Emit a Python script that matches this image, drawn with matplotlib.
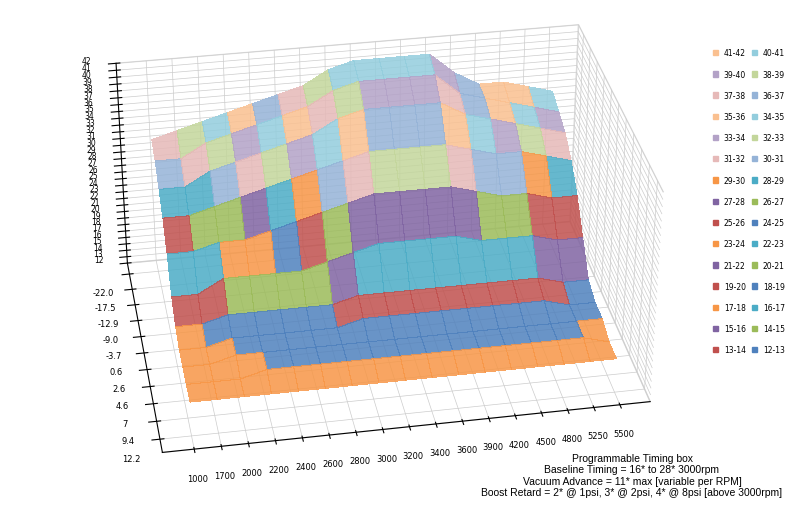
import numpy as np
import matplotlib.pyplot as plt
from matplotlib.colors import ListedColormap, BoundaryNorm
from matplotlib.patches import Patch

rpm = [1000, 1700, 2000, 2200, 2400, 2600, 2800, 3000, 3200, 3400, 3600, 3900, 4200, 4500, 4800, 5250, 5500]
load = ["-22.0", "-17.5", "-12.9", "-9.0", "-3.7", "0.6", "2.6", "4.6", "7", "9.4", "12.2"]
timing = np.array([
    [32, 33, 34, 35, 36, 37, 38, 40, 41, 41, 41, 41, 38, 36, 36, 35, 34],
    [31, 31, 33, 34, 35, 36, 37, 39, 40, 40, 40, 40, 37, 36, 35, 34, 33],
    [29, 29, 31, 32, 33, 34, 35, 37, 38, 38, 38, 38, 36, 35, 34, 33, 32],
    [27, 27, 28, 29, 30, 31, 32, 33, 34, 34, 34, 34, 33, 32, 32, 31, 30],
    [24, 24, 25, 25, 26, 27, 28, 29, 30, 30, 30, 30, 29, 28, 28, 27, 27],
    [20, 20, 22, 22, 22, 22, 23, 24, 25, 25, 25, 25, 24, 24, 24, 23, 23],
    [18, 18, 19, 19, 19, 19, 19, 20, 20, 20, 20, 20, 20, 20, 20, 19, 19],
    [17, 17, 18, 18, 18, 18, 18, 19, 19, 19, 19, 19, 19, 19, 19, 18, 18],
    [17, 17, 18, 18, 18, 18, 18, 18, 18, 18, 18, 18, 18, 18, 18, 18, 18],
    [17, 17, 17, 18, 18, 18, 18, 18, 18, 18, 18, 18, 18, 18, 18, 18, 17],
    [17, 17, 17, 17, 17, 17, 17, 17, 17, 17, 17, 17, 17, 17, 17, 17, 17],
], dtype=float)
bands = [f"{a}-{a + 1}" for a in range(12, 42)]

dark = ["#4F81BD", "#C0504D", "#9BBB59", "#8064A2", "#4BACC6", "#F79646"]
light = ["#95B3D7", "#E6B9B8", "#C3D69B", "#B3A2C7", "#93CDDD", "#FAC090"]
colors = [dark[i % 6] if i < 18 else light[i % 6] for i in range(30)]
cmap = ListedColormap(colors)
norm = BoundaryNorm(np.arange(12, 43), cmap.N)

fig = plt.figure(figsize=(8, 5.06), dpi=100)
ax = fig.add_axes([0.03, 0.02, 0.87, 1.02], projection="3d")
nl = len(load)
X, Y = np.meshgrid(np.arange(len(rpm)), nl - 1 - np.arange(nl))
ax.plot_surface(X, Y, timing, cmap=cmap, norm=norm, rstride=1, cstride=1,
                linewidth=0, antialiased=False, shade=False, alpha=0.85)
ax.set_xticks(range(len(rpm)))
ax.set_xticklabels(rpm, fontsize=6)
ax.set_yticks(range(nl))
ax.set_yticklabels(load[::-1], fontsize=6)
ax.set_zlim(12, 42)
ax.set_zticks(range(12, 43))
ax.set_zticklabels([str(v) for v in range(12, 43)], fontsize=5.5)
ax.set_box_aspect((2.4, 1.7, 1.2), zoom=1.2)
ax.view_init(elev=32, azim=-100)
for a in (ax.xaxis, ax.yaxis, ax.zaxis):
    a.pane.fill = False
    a.pane.set_edgecolor("#cccccc")
    a._axinfo["grid"]["color"] = "#cccccc"
    a._axinfo["grid"]["linewidth"] = 0.5

handles = [Patch(color=colors[i], label=bands[i]) for i in range(29, -1, -1)]
order = handles[0::2] + handles[1::2]
fig.legend(handles=order, loc="center right", bbox_to_anchor=(0.99, 0.6), ncol=2,
           fontsize=5.5, frameon=False, handlelength=0.6, labelspacing=1.6, columnspacing=0.8)

fig.text(0.79, 0.015, "Programmable Timing box\nBaseline Timing = 16* to 28* 3000rpm\n"
         "Vacuum Advance = 11* max [variable per RPM]\nBoost Retard = 2* @ 1psi, 3* @ 2psi, 4* @ 8psi [above 3000rpm]",
         ha="center", va="bottom", fontsize=7.5, fontfamily="Liberation Sans")
plt.savefig("out.png", dpi=100)
